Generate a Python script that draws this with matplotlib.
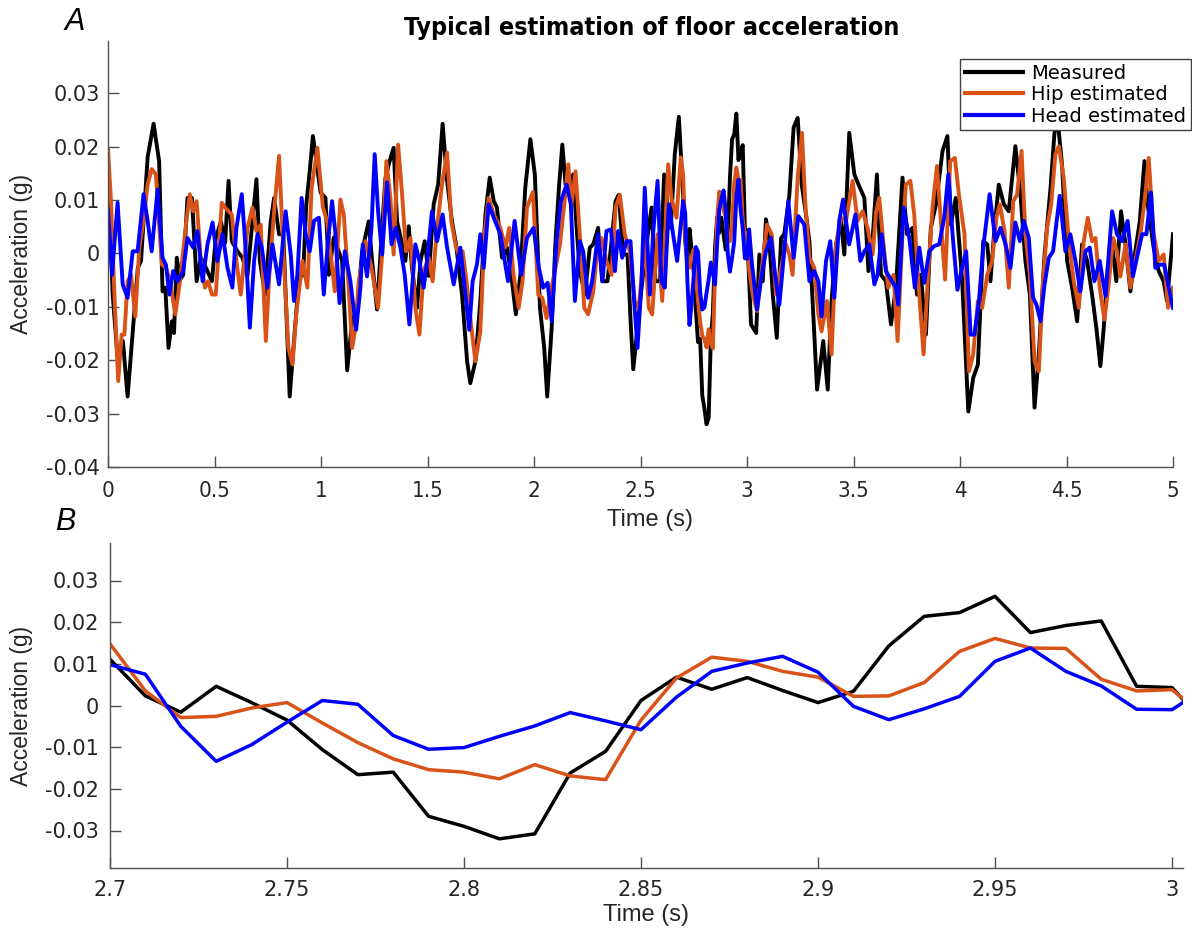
import numpy as np
import matplotlib
matplotlib.use("Agg")
import matplotlib.pyplot as plt
from matplotlib import font_manager

# (time s, acceleration g) vertices, outside the 2.70-3.01 window
meas_early = [
    (0.0, 0.016), (0.022, -0.0077), (0.045, -0.0196), (0.07, -0.0164), (0.092, -0.0268),
    (0.123, -0.0114), (0.14, -0.0027), (0.155, -0.0014), (0.186, 0.018), (0.214, 0.0243),
    (0.24, 0.0173), (0.256, -0.0071), (0.269, -0.0064), (0.284, -0.0177), (0.3, -0.0127),
    (0.31, -0.0149), (0.323, -0.0008), (0.338, -0.0049), (0.353, -0.004), (0.373, 0.0104),
    (0.394, 0.0104), (0.416, -0.0052), (0.436, -0.0008), (0.46, -0.0027), (0.488, -0.0052),
    (0.506, 0.0029), (0.53, 0.006), (0.55, 0.002), (0.566, 0.0136), (0.581, 0.0023),
    (0.608, 0.0004), (0.631, -0.0008), (0.655, -0.004), (0.678, 0.006), (0.697, 0.0139),
    (0.713, -0.0014), (0.738, -0.0077), (0.764, 0.006), (0.78, 0.0104), (0.803, 0.0036),
    (0.823, 0.0036), (0.853, -0.0268), (0.878, -0.0139), (0.897, -0.0046), (0.916, -0.004),
    (0.931, 0.0092), (0.947, 0.0154), (0.962, 0.022), (0.978, 0.0173), (0.998, 0.0114),
    (1.021, 0.0104), (1.037, -0.004), (1.06, 0.003), (1.099, -0.0014), (1.123, -0.0219),
    (1.146, -0.0127), (1.17, -0.0102), (1.193, 0.0004), (1.224, 0.006), (1.24, -0.0014),
    (1.263, -0.0105), (1.287, 0.0048), (1.302, 0.0139), (1.318, 0.0167), (1.341, 0.0198),
    (1.357, 0.006), (1.378, 0.0023), (1.396, -0.0014), (1.412, 0.0051), (1.427, -0.0027),
    (1.451, -0.0102), (1.467, -0.0014), (1.487, 0.0023), (1.506, -0.0042), (1.529, 0.0092),
    (1.55, 0.0129), (1.571, 0.0243), (1.592, 0.0136), (1.615, 0.006), (1.634, 0.0017),
    (1.662, -0.0077), (1.686, -0.0202), (1.701, -0.0243), (1.725, -0.0202), (1.748, -0.0089),
    (1.772, 0.0073), (1.792, 0.0142), (1.811, 0.0098), (1.826, 0.0086), (1.85, -0.0008),
    (1.873, 0.0011), (1.893, -0.004), (1.915, -0.0114), (1.936, -0.004), (1.959, 0.0123),
    (1.983, 0.0214), (2.004, 0.0148), (2.028, -0.0102), (2.048, -0.0177), (2.062, -0.0268),
    (2.083, -0.0139), (2.101, 0.0023), (2.117, 0.0123), (2.133, 0.0204), (2.148, 0.0129),
    (2.169, 0.011), (2.184, 0.0148), (2.2, 0.0048), (2.215, -0.0033), (2.239, -0.0077),
    (2.262, 0.0011), (2.278, 0.0017), (2.301, 0.0048), (2.32, -0.0052), (2.345, -0.0052),
    (2.364, 0.0023), (2.383, 0.0098), (2.398, 0.011), (2.419, -0.0002), (2.439, -0.0002),
    (2.455, -0.0139), (2.466, -0.0217), (2.486, -0.0139), (2.505, -0.0064), (2.528, 0.0017),
    (2.552, 0.0086), (2.57, -0.0052), (2.591, -0.0052), (2.611, 0.0148), (2.63, 0.0079),
    (2.642, 0.0048), (2.661, 0.0186), (2.68, 0.0256),
]
meas_late = [
    (3.019, -0.0133), (3.043, -0.0149), (3.058, -0.0002), (3.074, -0.0052), (3.089, 0.0064),
    (3.105, 0.0023), (3.121, -0.0077), (3.14, -0.0158), (3.16, 0.0029), (3.175, 0.0036),
    (3.199, 0.011), (3.219, 0.0236), (3.238, 0.0254), (3.257, 0.0129), (3.277, 0.0073),
    (3.293, 0.0023), (3.308, -0.0089), (3.329, -0.0255), (3.358, -0.0164), (3.379, -0.0255),
    (3.397, -0.0089), (3.418, 0.0017), (3.441, 0.006), (3.457, -0.0002), (3.48, 0.0226),
    (3.504, 0.0148), (3.527, 0.0126), (3.551, 0.0104), (3.57, -0.0033), (3.59, 0.0029),
    (3.61, 0.0148), (3.629, -0.004), (3.652, -0.0052), (3.676, -0.0133), (3.699, -0.0064),
    (3.73, 0.0142), (3.751, 0.0036), (3.777, 0.0048), (3.798, -0.0077), (3.816, -0.004),
    (3.84, -0.0152), (3.863, 0.0048), (3.887, 0.0092), (3.918, 0.0192), (3.941, 0.022),
    (3.957, 0.0054), (3.98, 0.0104), (4.01, -0.005), (4.039, -0.0296), (4.062, -0.0233),
    (4.084, -0.0208), (4.109, 0.0023), (4.128, 0.0017), (4.143, -0.0052), (4.162, 0.0048),
    (4.182, 0.0129), (4.206, 0.0092), (4.229, 0.0079), (4.26, 0.0201), (4.284, 0.011),
    (4.307, -0.0014), (4.328, -0.0077), (4.35, -0.0289), (4.37, -0.0189), (4.397, -0.0002),
    (4.425, 0.0123), (4.443, 0.0223), (4.456, 0.026), (4.479, 0.0167), (4.503, -0.0014),
    (4.526, -0.0064), (4.55, -0.0127), (4.573, 0.0017), (4.597, -0.0014), (4.62, -0.0077),
    (4.64, -0.0139), (4.659, -0.0211), (4.675, -0.0139), (4.694, -0.0027), (4.714, 0.0017),
    (4.734, -0.0052), (4.756, 0.0079), (4.777, 0.0017), (4.8, -0.0071), (4.823, 0.0004),
    (4.844, 0.006), (4.866, 0.0173), (4.881, 0.0092), (4.909, 0.0011), (4.933, -0.0033),
    (4.956, -0.0052), (4.972, -0.0089), (5.0, 0.0036),
]

hip_early = [
    (0.0, 0.0195), (0.014, 0.0098), (0.03, -0.0077), (0.048, -0.0239), (0.064, -0.0152),
    (0.077, -0.0152), (0.092, -0.0052), (0.108, -0.004), (0.128, -0.0118), (0.147, 0.0011),
    (0.166, 0.006), (0.186, 0.0129), (0.205, 0.0158), (0.225, 0.0148), (0.241, 0.0048),
    (0.253, -0.0021), (0.272, -0.0027), (0.291, -0.0052), (0.316, -0.0114), (0.338, -0.0052),
    (0.366, 0.0054), (0.384, 0.0111), (0.4, 0.0079), (0.416, 0.0098), (0.436, -0.0014),
    (0.455, -0.0064), (0.47, -0.0052), (0.488, -0.0077), (0.506, -0.0077), (0.534, 0.0095),
    (0.556, 0.0083), (0.581, 0.0073), (0.603, -0.0014), (0.623, -0.0077), (0.639, -0.0014),
    (0.655, 0.0048), (0.678, 0.0086), (0.697, 0.0042), (0.717, 0.0054), (0.741, -0.0164),
    (0.759, -0.0027), (0.78, 0.0079), (0.803, 0.0183), (0.827, -0.0027), (0.847, -0.0177),
    (0.866, -0.0208), (0.884, -0.0114), (0.913, -0.0014), (0.936, -0.0064), (0.956, 0.0123),
    (0.983, 0.0198), (1.009, 0.0086), (1.029, 0.006), (1.044, 0.0004), (1.065, -0.0071),
    (1.091, 0.0101), (1.107, 0.0073), (1.13, -0.0064), (1.146, -0.0177), (1.162, -0.0139),
    (1.177, -0.0052), (1.209, 0.0023), (1.237, -0.0027), (1.268, -0.0102), (1.287, -0.0002),
    (1.307, 0.0173), (1.326, 0.0104), (1.341, -0.0002), (1.362, 0.0204), (1.381, 0.011),
    (1.399, 0.0004), (1.42, 0.0029), (1.443, -0.0102), (1.462, -0.0152), (1.482, -0.0033),
    (1.506, -0.0008), (1.524, -0.0052), (1.545, 0.0048), (1.568, 0.0129), (1.592, 0.0189),
    (1.612, 0.006), (1.631, 0.0017), (1.646, -0.0002), (1.665, 0.0004), (1.685, -0.0058),
    (1.706, -0.0139), (1.725, -0.0202), (1.748, -0.0146), (1.768, 0.0036), (1.787, 0.0104),
    (1.811, 0.0073), (1.842, 0.0048), (1.865, 0.0011), (1.884, 0.0048), (1.904, -0.004),
    (1.928, -0.0102), (1.946, -0.0052), (1.967, 0.0086), (1.995, 0.0115), (2.02, -0.0077),
    (2.039, -0.0083), (2.059, -0.0121), (2.082, -0.0064), (2.101, -0.0027), (2.122, 0.0017),
    (2.142, 0.0092), (2.161, 0.0167), (2.176, 0.0092), (2.195, 0.0154), (2.215, 0.0036),
    (2.236, -0.0102), (2.254, -0.0114), (2.278, -0.0071), (2.298, 0.0011), (2.317, 0.0029),
    (2.34, -0.0014), (2.364, -0.004), (2.383, 0.0086), (2.403, 0.011), (2.426, 0.0036),
    (2.45, 0.0004), (2.473, -0.0089), (2.492, -0.0102), (2.52, 0.0023), (2.539, -0.0102),
    (2.555, -0.0114), (2.58, 0.0036), (2.602, -0.0089), (2.63, 0.0167), (2.645, 0.0104),
    (2.669, 0.0067), (2.689, 0.018),
]
hip_late = [
    (3.027, -0.0077), (3.047, -0.0108), (3.066, -0.004), (3.094, 0.0054), (3.116, 0.0036),
    (3.136, -0.0077), (3.16, -0.0027), (3.183, 0.0017), (3.199, -0.0002), (3.214, -0.004),
    (3.238, 0.0142), (3.258, 0.0226), (3.274, 0.0092), (3.293, -0.0008), (3.316, -0.0027),
    (3.335, -0.0114), (3.35, -0.0146), (3.375, -0.0089), (3.397, -0.0189), (3.418, 0.0017),
    (3.441, 0.0067), (3.465, 0.0061), (3.496, 0.0136), (3.519, 0.0061), (3.543, 0.0079),
    (3.566, 0.0048), (3.59, -0.0002), (3.606, 0.0079), (3.621, 0.0104), (3.641, 0.0017),
    (3.663, -0.0064), (3.688, -0.004), (3.707, -0.0164), (3.73, 0.0036), (3.746, 0.0129),
    (3.767, 0.0136), (3.785, 0.0073), (3.804, -0.0052), (3.829, -0.0189), (3.851, -0.0033),
    (3.871, 0.0086), (3.892, 0.0164), (3.91, 0.0061), (3.93, -0.0049), (3.954, 0.0173),
    (3.976, 0.0179), (3.995, 0.011), (4.021, 0.0036), (4.042, -0.0221), (4.062, -0.0189),
    (4.084, -0.0089), (4.104, -0.0102), (4.128, -0.004), (4.151, -0.0014), (4.171, 0.0067),
    (4.187, 0.0092), (4.209, 0.0042), (4.229, -0.0064), (4.25, 0.0098), (4.268, 0.011),
    (4.289, 0.0192), (4.307, 0.0036), (4.328, -0.004), (4.35, -0.0202), (4.37, -0.0221),
    (4.39, -0.0052), (4.409, 0.0048), (4.428, 0.0092), (4.448, 0.0186), (4.464, 0.0201),
    (4.487, 0.0142), (4.511, 0.0023), (4.534, -0.0052), (4.558, -0.0102), (4.581, 0.0023),
    (4.6, 0.0067), (4.62, 0.0023), (4.636, 0.0029), (4.656, -0.0064), (4.678, -0.0124),
    (4.698, -0.0058), (4.719, 0.0029), (4.737, 0.0004), (4.753, -0.0043), (4.777, 0.0017),
    (4.8, -0.0064), (4.823, -0.0014), (4.847, 0.0036), (4.87, 0.011), (4.886, 0.0179),
    (4.909, 0.0036), (4.933, -0.0014), (4.956, -0.0002), (4.977, -0.0102), (5.0, -0.0064),
]

head_early = [
    (0.0, 0.0083), (0.019, -0.004), (0.045, 0.0095), (0.069, -0.0058), (0.092, -0.0083),
    (0.116, 0.0004), (0.139, 0.0004), (0.167, 0.0111), (0.186, 0.0061), (0.205, 0.0004),
    (0.233, 0.012), (0.256, -0.0008), (0.272, -0.0021), (0.288, -0.0077), (0.306, -0.0033),
    (0.327, -0.0052), (0.353, -0.0033), (0.373, 0.0029), (0.4, 0.0011), (0.42, 0.0042),
    (0.444, -0.0052), (0.467, 0.0017), (0.491, 0.0058), (0.514, -0.0014), (0.538, 0.0036),
    (0.561, -0.0027), (0.584, -0.0064), (0.603, 0.0048), (0.628, 0.0111), (0.647, 0.0004),
    (0.666, -0.0139), (0.686, -0.0014), (0.702, 0.0036), (0.722, 0.0011), (0.748, -0.0064),
    (0.772, 0.0017), (0.803, -0.0058), (0.834, 0.0079), (0.858, -0.0002), (0.873, -0.0089),
    (0.889, -0.004), (0.909, 0.0104), (0.928, 0.0036), (0.947, 0.0004), (0.967, 0.0061),
    (0.99, 0.0067), (1.013, -0.0077), (1.033, 0.0023), (1.052, 0.0098), (1.068, 0.0036),
    (1.087, -0.0093), (1.112, 0.0004), (1.138, -0.0052), (1.165, -0.0143), (1.185, -0.0064),
    (1.196, 0.0017), (1.216, -0.0043), (1.237, 0.0048), (1.252, 0.0186), (1.268, 0.0079),
    (1.287, -0.0002), (1.31, 0.0133), (1.331, 0.0017), (1.35, 0.0048), (1.373, 0.0011),
    (1.393, -0.004), (1.415, -0.0133), (1.443, 0.0017), (1.462, -0.0014), (1.482, -0.0064),
    (1.498, -0.0014), (1.521, 0.0079), (1.545, 0.0023), (1.571, 0.0073), (1.592, 0.0011),
    (1.623, -0.0058), (1.654, 0.0011), (1.678, -0.0077), (1.696, -0.0143), (1.712, -0.0052),
    (1.732, -0.0021), (1.748, 0.0036), (1.764, -0.0027), (1.787, 0.0092), (1.811, 0.0067),
    (1.842, 0.0036), (1.878, -0.0052), (1.909, 0.0061), (1.94, -0.004), (1.967, 0.0029),
    (1.998, 0.0048), (2.023, -0.0027), (2.043, -0.0064), (2.064, -0.0055), (2.083, -0.0127),
    (2.106, 0.0023), (2.126, 0.0098), (2.153, 0.0129), (2.173, 0.0092), (2.192, -0.0089),
    (2.215, 0.0023), (2.231, 0.0004), (2.254, -0.0083), (2.273, -0.0052), (2.301, 0.0036),
    (2.322, -0.0052), (2.34, 0.0042), (2.361, 0.0045), (2.38, -0.0033), (2.395, 0.0042),
    (2.414, -0.0008), (2.434, 0.0023), (2.453, 0.0023), (2.47, -0.0089), (2.486, -0.0177),
    (2.505, -0.0052), (2.52, 0.0123), (2.544, -0.0077), (2.559, 0.0036), (2.58, 0.0136),
    (2.598, -0.0052), (2.614, -0.0064), (2.633, 0.0092), (2.653, 0.0036), (2.672, -0.0014),
]
head_late = [
    (3.022, -0.0014), (3.047, -0.0105), (3.069, -0.004), (3.089, 0.0004), (3.113, 0.0029),
    (3.132, -0.004), (3.152, -0.0096), (3.172, -0.0008), (3.194, 0.0098), (3.219, -0.0008),
    (3.241, 0.007), (3.269, 0.0054), (3.293, -0.0052), (3.316, -0.0033), (3.335, -0.0052),
    (3.35, -0.0118), (3.371, -0.0014), (3.391, 0.0023), (3.41, -0.0083), (3.433, 0.0061),
    (3.451, 0.0101), (3.48, 0.0017), (3.509, 0.0073), (3.532, -0.0014), (3.551, 0.0004),
    (3.574, 0.0017), (3.598, -0.0058), (3.613, -0.004), (3.632, 0.0036), (3.652, -0.0033),
    (3.676, -0.0049), (3.699, -0.0064), (3.71, -0.0096), (3.735, 0.0086), (3.762, 0.0029),
    (3.788, -0.0064), (3.809, 0.0011), (3.832, -0.0055), (3.856, 0.0004), (3.879, 0.0014),
    (3.902, 0.0017), (3.926, 0.0067), (3.945, 0.0148), (3.965, 0.0036), (3.988, -0.0068),
    (4.006, -0.0033), (4.029, 0.0004), (4.05, -0.0152), (4.068, -0.0152), (4.089, -0.0089),
    (4.109, 0.0011), (4.139, 0.0111), (4.167, 0.0023), (4.19, 0.0048), (4.214, 0.0017),
    (4.237, -0.0027), (4.26, 0.0058), (4.281, 0.0023), (4.3, 0.0061), (4.323, 0.0029),
    (4.343, -0.0083), (4.359, -0.0096), (4.378, -0.0127), (4.397, -0.0058), (4.417, -0.0008),
    (4.437, 0.0004), (4.468, 0.0108), (4.495, 0.0004), (4.518, 0.0036), (4.542, -0.0014),
    (4.565, -0.0071), (4.589, 0.0004), (4.609, 0.0011), (4.631, -0.0052), (4.656, -0.0014),
    (4.683, -0.008), (4.698, -0.0002), (4.714, 0.0079), (4.737, 0.0036), (4.76, 0.0023),
    (4.787, 0.0061), (4.812, -0.0043), (4.834, -0.0002), (4.855, 0.0036), (4.875, 0.0036),
    (4.897, 0.0114), (4.917, -0.0027), (4.94, -0.0021), (4.959, -0.0021), (4.98, -0.0064),
    (5.0, -0.0102),
]

# zoomed window, 100 Hz samples 2.70 ... 3.01
t_zoom = np.round(np.linspace(2.70, 3.01, 32), 2)
meas_zoom = [0.0111, 0.0023, -0.0016, 0.0046, 0.0007, -0.0035, -0.0106, -0.0166, -0.0160, -0.0266,
             -0.0290, -0.0320, -0.0308, -0.0162, -0.0110, 0.0012, 0.0068, 0.0039, 0.0067, 0.0036,
             0.0007, 0.0034, 0.0143, 0.0214, 0.0223, 0.0262, 0.0175, 0.0192, 0.0203, 0.0046,
             0.0043, -0.0050]
hip_zoom = [0.0148, 0.0035, -0.0029, -0.0026, -0.0006, 0.0007, -0.0042, -0.0089, -0.0128, -0.0154,
            -0.0160, -0.0176, -0.0142, -0.0169, -0.0178, -0.0035, 0.0066, 0.0116, 0.0106, 0.0082,
            0.0068, 0.0022, 0.0023, 0.0055, 0.0130, 0.0161, 0.0138, 0.0137, 0.0063, 0.0035,
            0.0038, -0.0030]
head_zoom = [0.0098, 0.0075, -0.0050, -0.0134, -0.0094, -0.0040, 0.0012, 0.0003, -0.0072, -0.0105,
             -0.0101, -0.0074, -0.0049, -0.0017, -0.0037, -0.0058, 0.0020, 0.0082, 0.0102, 0.0118,
             0.0080, -0.0002, -0.0034, -0.0008, 0.0022, 0.0106, 0.0138, 0.0082, 0.0047, -0.0009,
             -0.0010, 0.0045]

labels = ["Measured", "Hip estimated", "Head estimated"]
colors = ["black", "#D95319", "#0000FF"]


def full_series(early, zoom, late):
    t = [p[0] for p in early] + list(t_zoom) + [p[0] for p in late]
    v = [p[1] for p in early] + list(zoom) + [p[1] for p in late]
    return np.array(t), np.array(v)


# a condensed face if one is installed, otherwise plain DejaVu
cond_fp = font_manager.FontProperties(family="DejaVu Sans", stretch="condensed")
has_cond = "Condensed" in font_manager.findfont(cond_fp)
cond_kw = {"family": "DejaVu Sans", "stretch": "condensed"} if has_cond else {"family": "DejaVu Sans"}
plain = "Liberation Sans"
tick_c = "#262626"
spine_c = "#505050"

fig = plt.figure(figsize=(11.92, 9.33), dpi=100)
W, H = 1192.0, 933.0
axA = fig.add_axes([108 / W, 1 - 467 / H, (1173 - 108) / W, (467 - 41) / H])
axB = fig.add_axes([110 / W, 1 - 868 / H, (1183 - 110) / W, (868 - 543) / H])

series = [(meas_early, meas_zoom, meas_late),
          (hip_early, hip_zoom, hip_late),
          (head_early, head_zoom, head_late)]
for (early, zoom, late), lab, c in zip(series, labels, colors):
    t, v = full_series(early, zoom, late)
    axA.plot(t, v, color=c, lw=2.8, label=lab)
    axB.plot(t_zoom, zoom, color=c, lw=2.5)

for ax in (axA, axB):
    ax.spines["top"].set_visible(False)
    ax.spines["right"].set_visible(False)
    for s in ("left", "bottom"):
        ax.spines[s].set_color(spine_c)
        ax.spines[s].set_linewidth(1.0)
    ax.tick_params(direction="in", length=8, width=1, color=spine_c, labelcolor=tick_c)

axA.set_xlim(0, 5)
axA.set_ylim(-0.04, 0.0398)
axA.set_xticks(np.arange(0, 5.01, 0.5))
axA.set_xticklabels(["0", "0.5", "1", "1.5", "2", "2.5", "3", "3.5", "4", "4.5", "5"],
                    fontsize=16 if has_cond else 15, **cond_kw)
axA.set_yticks([-0.04, -0.03, -0.02, -0.01, 0, 0.01, 0.02, 0.03])
axA.set_yticklabels(["-0.04", "-0.03", "-0.02", "-0.01", "0", "0.01", "0.02", "0.03"],
                    family="DejaVu Sans", fontsize=15)
axA.tick_params(axis="x", pad=10)
axA.tick_params(axis="y", pad=6)

axB.set_xlim(2.7, 3.0031)
axB.set_ylim(-0.039, 0.039)
axB.set_xticks([2.7, 2.75, 2.8, 2.85, 2.9, 2.95, 3.0])
axB.set_xticklabels(["2.7", "2.75", "2.8", "2.85", "2.9", "2.95", "3"],
                    family="DejaVu Sans", fontsize=15)
axB.set_yticks([-0.03, -0.02, -0.01, 0, 0.01, 0.02, 0.03])
axB.set_yticklabels(["-0.03", "-0.02", "-0.01", "0", "0.01", "0.02", "0.03"],
                    family="DejaVu Sans", fontsize=15)
axB.tick_params(axis="x", pad=9)
axB.tick_params(axis="y", pad=8)

for ycen in (254, 706):
    fig.text(22 / W, 1 - ycen / H, "Acceleration (g)", rotation=90, ha="center", va="center",
             family=plain, fontsize=16.5, color=tick_c)
fig.text(650 / W, 1 - 520 / H, "Time (s)", ha="center", va="center",
         family=plain, fontsize=17, color=tick_c)
fig.text(646 / W, 1 - 915 / H, "Time (s)", ha="center", va="center",
         family=plain, fontsize=17, color=tick_c)

fig.text(652 / W, 1 - 28 / H, "Typical estimation of floor acceleration", ha="center", va="center",
         fontweight="bold", fontsize=18 if has_cond else 16, color="black", **cond_kw)
fig.text(75 / W, 1 - 22 / H, "A", ha="center", va="center", style="italic",
         family=plain, fontsize=22, color="black")
fig.text(65 / W, 1 - 522 / H, "B", ha="center", va="center", style="italic",
         family=plain, fontsize=22, color="black")

leg = axA.legend(loc="upper right", bbox_to_anchor=(1191 / W, 1 - 59 / H),
                 bbox_transform=fig.transFigure, prop={"family": "DejaVu Sans", "size": 14},
                 frameon=True, fancybox=False, framealpha=1, edgecolor="#404040",
                 handlelength=3.0, handletextpad=0.4, labelspacing=0.12, borderpad=0.25,
                 borderaxespad=0)
leg.get_frame().set_linewidth(1.0)
for line in leg.get_lines():
    line.set_linewidth(3.0)

fig.savefig("out.png", dpi=100)
